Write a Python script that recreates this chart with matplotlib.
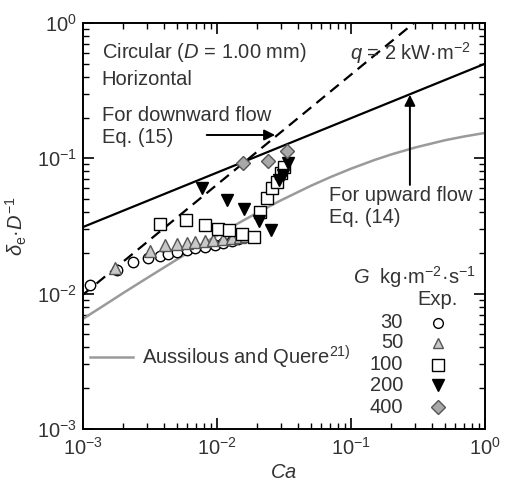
import numpy as np
import matplotlib.pyplot as plt

plt.rcParams['font.family'] = ['Liberation Sans', 'DejaVu Sans']
plt.rcParams['mathtext.fontset'] = 'custom'
plt.rcParams['mathtext.rm'] = 'Liberation Sans'
plt.rcParams['mathtext.it'] = 'Liberation Sans:italic'
plt.rcParams['mathtext.bf'] = 'Liberation Sans:bold'

ca_30 = [1.13e-3, 1.79e-3, 2.36e-3, 3.05e-3, 3.76e-3, 4.31e-3, 5.03e-3, 5.97e-3,
         6.85e-3, 8.13e-3, 9.66e-3, 0.0111, 0.0130, 0.0144]
d_30 = [0.0116, 0.0150, 0.0171, 0.0184, 0.0190, 0.0197, 0.0203, 0.0210,
        0.0218, 0.0222, 0.0229, 0.0237, 0.0245, 0.0254]

ca_50 = [1.75e-3, 3.16e-3, 4.09e-3, 5.03e-3, 5.97e-3, 6.85e-3, 8.13e-3, 9.33e-3,
         0.0111, 0.0130, 0.0149, 0.0164]
d_50 = [0.0155, 0.0207, 0.0229, 0.0233, 0.0237, 0.0241, 0.0245, 0.0249,
        0.0254, 0.0258, 0.0262, 0.0267]

ca_100 = [3.76e-3, 5.88e-3, 8.13e-3, 0.0102, 0.0123, 0.0154, 0.0189, 0.0209,
          0.0236, 0.0257, 0.0280, 0.0300, 0.0316]
d_100 = [0.0327, 0.0351, 0.0322, 0.0301, 0.0296, 0.0276, 0.0262, 0.0402,
         0.0510, 0.0604, 0.0669, 0.0780, 0.0864]

ca_200 = [7.73e-3, 0.0119, 0.0159, 0.0206, 0.0253, 0.0290, 0.0311, 0.0339]
d_200 = [0.0604, 0.0493, 0.0423, 0.0344, 0.0296, 0.0692, 0.0754, 0.0925]

ca_400 = [0.0156, 0.0240, 0.0333]
d_400 = [0.0925, 0.0957, 0.1135]

# correlation lines
ca_eq14 = [1e-3, 1.0]
d_eq14 = [0.031, 0.50]
ca_eq15 = [1e-3, 0.35]
d_eq15 = [0.0098, 1.15]
ca_aq = [1e-3, 1.5e-3, 2e-3, 3e-3, 5e-3, 7e-3, 1e-2, 1.5e-2, 2e-2, 3e-2,
         5e-2, 7e-2, 0.1, 0.15, 0.2, 0.3, 0.5, 0.7, 1.0]
d_aq = [0.0065, 0.0084, 0.0101, 0.0130, 0.0178, 0.0218, 0.0269, 0.0338, 0.0396, 0.0489,
        0.0625, 0.0725, 0.0838, 0.0972, 0.1068, 0.120, 0.1358, 0.145, 0.154]

g_labels = ['30', '50', '100', '200', '400']

fs = 14.5
fig = plt.figure(figsize=(5.08, 4.88), dpi=100)
ax = fig.add_axes([0.163, 0.121, 0.792, 0.832])

ax.plot(ca_aq, d_aq, color='#9a9a9a', lw=1.8)
ax.plot(ca_eq14, d_eq14, color='black', lw=1.6)
ax.plot(ca_eq15, d_eq15, color='black', lw=1.6, ls=(0, (5, 3)))

mk = dict(ls='none', mec='black', mew=1.0)
ax.plot(ca_30, d_30, marker='o', ms=7.5, mfc='white', **mk)
ax.plot(ca_50, d_50, marker='^', ms=8, mfc='#c8c8c8', mec='#555555', mew=1.0, ls='none')
ax.plot(ca_100, d_100, marker='s', ms=8.5, mfc='white', **mk)
ax.plot(ca_200, d_200, marker='v', ms=8.5, mfc='black', **mk)
ax.plot(ca_400, d_400, marker='D', ms=7.5, mfc='#a8a8a8', mec='#555555', mew=1.0, ls='none')

ax.set_xscale('log')
ax.set_yscale('log')
ax.set_xlim(1e-3, 1)
ax.set_ylim(1e-3, 1)
ax.tick_params(which='both', direction='in', top=True, right=True, labelsize=fs,
               labelcolor='#333333')
ax.tick_params(which='major', length=8, width=1.2)
ax.tick_params(which='minor', length=4, width=1.0)
ax.tick_params(axis='x', which='major', pad=6)
ax.tick_params(axis='y', which='major', pad=4)
for s in ax.spines.values():
    s.set_linewidth(1.4)

ax.set_xlabel('$\\it{Ca}$', fontsize=fs, color='#333333', labelpad=3)
ax.set_ylabel('$\\delta_{\\rm e}$·$D^{-1}$', fontsize=fs, color='#333333', labelpad=6)

tc = '#333333'
tr = ax.transAxes
ax.text(0.047, 0.926, 'Circular ($D$ = 1.00 mm)', transform=tr, fontsize=fs, va='center', color=tc)
ax.text(0.047, 0.860, 'Horizontal', transform=tr, fontsize=fs, va='center', color=tc)
ax.text(0.665, 0.926, '$q$ = 2 kW·m$^{-2}$', transform=tr, fontsize=fs, va='center', color=tc)
ax.text(0.047, 0.773, 'For downward flow', transform=tr, fontsize=fs, va='center', color=tc)
ax.text(0.047, 0.719, 'Eq. (15)', transform=tr, fontsize=fs, va='center', color=tc)
ax.annotate('', xy=(0.478, 0.724), xytext=(0.308, 0.724), xycoords=tr, textcoords=tr,
            arrowprops=dict(arrowstyle='-|>', color='black', lw=1.4, mutation_scale=16,
                            shrinkA=0, shrinkB=0))
ax.text(0.612, 0.576, 'For upward flow', transform=tr, fontsize=fs, va='center', color=tc)
ax.text(0.612, 0.520, 'Eq. (14)', transform=tr, fontsize=fs, va='center', color=tc)
ax.annotate('', xy=(0.813, 0.823), xytext=(0.813, 0.601), xycoords=tr, textcoords=tr,
            arrowprops=dict(arrowstyle='-|>', color='black', lw=1.4, mutation_scale=16,
                            shrinkA=0, shrinkB=0))

# legend block
ax.text(0.672, 0.374, '$G$  kg·m$^{-2}$·s$^{-1}$', transform=tr, fontsize=fs, va='center', color=tc)
ax.text(0.831, 0.318, 'Exp.', transform=tr, fontsize=fs, va='center', color=tc)
rows_y = [0.261, 0.212, 0.158, 0.108, 0.054]
styles = [dict(marker='o', ms=7, mfc='white', mec='black'),
          dict(marker='^', ms=7.5, mfc='#c8c8c8', mec='#555555'),
          dict(marker='s', ms=8, mfc='white', mec='black'),
          dict(marker='v', ms=8.5, mfc='black', mec='black'),
          dict(marker='D', ms=7, mfc='#a8a8a8', mec='#555555')]
for lab, yy, st in zip(g_labels, rows_y, styles):
    ax.text(0.796, yy, lab, transform=tr, fontsize=fs, va='center', ha='right', color=tc)
    ax.plot([0.883], [yy], transform=tr, ls='none', mew=1.0, clip_on=False, **st)

ax.plot([0.017, 0.124], [0.177, 0.177], transform=tr, color='#9a9a9a', lw=1.8)
ax.text(0.147, 0.177, 'Aussilous and Quere$^{21)}$', transform=tr, fontsize=fs,
        va='center', color=tc)

fig.savefig('out.png', dpi=100)
